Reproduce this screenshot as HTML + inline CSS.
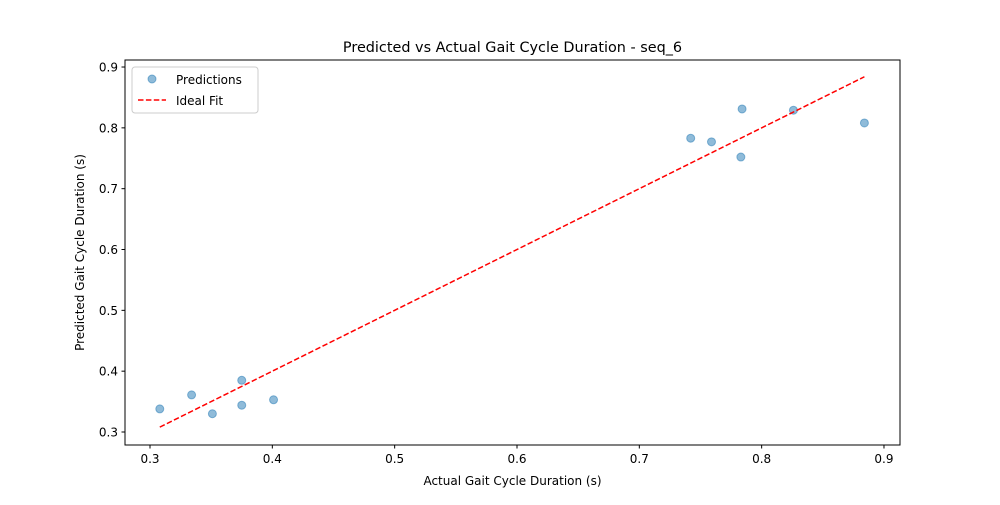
<!DOCTYPE html>
<html><head><meta charset="utf-8"><style>
body{margin:0;background:#fff;font-family:"Liberation Sans","DejaVu Sans",sans-serif;}
svg text{font-family:"DejaVu Sans","Liberation Sans",sans-serif;}
</style></head><body>
<svg id="chart" width="1000" height="500" xmlns="http://www.w3.org/2000/svg">
<rect width="1000" height="500" fill="#fff"/>
<g id="marks"></g>
<rect x="125" y="60" width="775" height="385" fill="none" stroke="#000" stroke-width="1"/>
<text x="512.5" y="52" text-anchor="middle" font-size="14.4">Predicted vs Actual Gait Cycle Duration - seq_6</text>
<text x="512.5" y="485" text-anchor="middle" font-size="12">Actual Gait Cycle Duration (s)</text>
<text transform="translate(84,252.5) rotate(-90)" text-anchor="middle" font-size="12">Predicted Gait Cycle Duration (s)</text>
<g>
<rect x="132" y="67" width="126" height="46" rx="3" fill="#fff" fill-opacity="0.8" stroke="#ccc"/>
<circle cx="152" cy="79" r="4" fill="#1f77b4" fill-opacity="0.5" stroke="#1f77b4" stroke-opacity="0.5"/>
<text x="176" y="84" font-size="12">Predictions</text>
<line x1="138" y1="100" x2="166" y2="100" stroke="red" stroke-width="1.5" stroke-dasharray="5.5,2.4"/>
<text x="176" y="105" font-size="12">Ideal Fit</text>
</g>
</svg>
<script>
const actual=[0.308,0.334,0.351,0.375,0.375,0.401,0.742,0.759,0.784,0.783,0.826,0.884];
const predicted=[0.338,0.361,0.330,0.385,0.344,0.353,0.783,0.777,0.831,0.752,0.829,0.808];
const xTicks=[0.3,0.4,0.5,0.6,0.7,0.8,0.9];
const yTicks=[0.3,0.4,0.5,0.6,0.7,0.8,0.9];
const X=v=>150+(v-0.3)*1223.3;
const Y=v=>432-(v-0.3)*608.3;
const NS="http://www.w3.org/2000/svg";
const g=document.getElementById('marks');
function mk(t,a){const e=document.createElementNS(NS,t);for(const k in a)e.setAttribute(k,a[k]);g.appendChild(e);return e;}
xTicks.forEach(t=>{
 const l=mk('line',{x1:X(t),x2:X(t),y1:445,y2:448.5,stroke:'#000'});
 
 
 const tx=mk('text',{x:X(t),y:463,'text-anchor':'middle','font-size':12});
 
 
 tx.textContent=t.toFixed(1);
});
yTicks.forEach(t=>{
 const l=mk('line',{x1:121.5,x2:125,y1:Y(t),y2:Y(t),stroke:'#000'});
 
 
 const tx=mk('text',{x:118,y:Y(t)+4.5,'text-anchor':'end','font-size':12});
 
 
 tx.textContent=t.toFixed(1);
});
actual.forEach((a,i)=>{
 const c=mk('circle',{cx:X(a),cy:Y(predicted[i]),r:4,fill:'#1f77b4','fill-opacity':0.5,stroke:'#1f77b4','stroke-opacity':0.5});
 
 
});
const mn=Math.min(...actual),mx=Math.max(...actual);
const ln=mk('line',{x1:X(mn),y1:Y(mn),x2:X(mx),y2:Y(mx),stroke:'red','stroke-width':1.5,'stroke-dasharray':'5.5,2.4'});


</script>
</body></html>
